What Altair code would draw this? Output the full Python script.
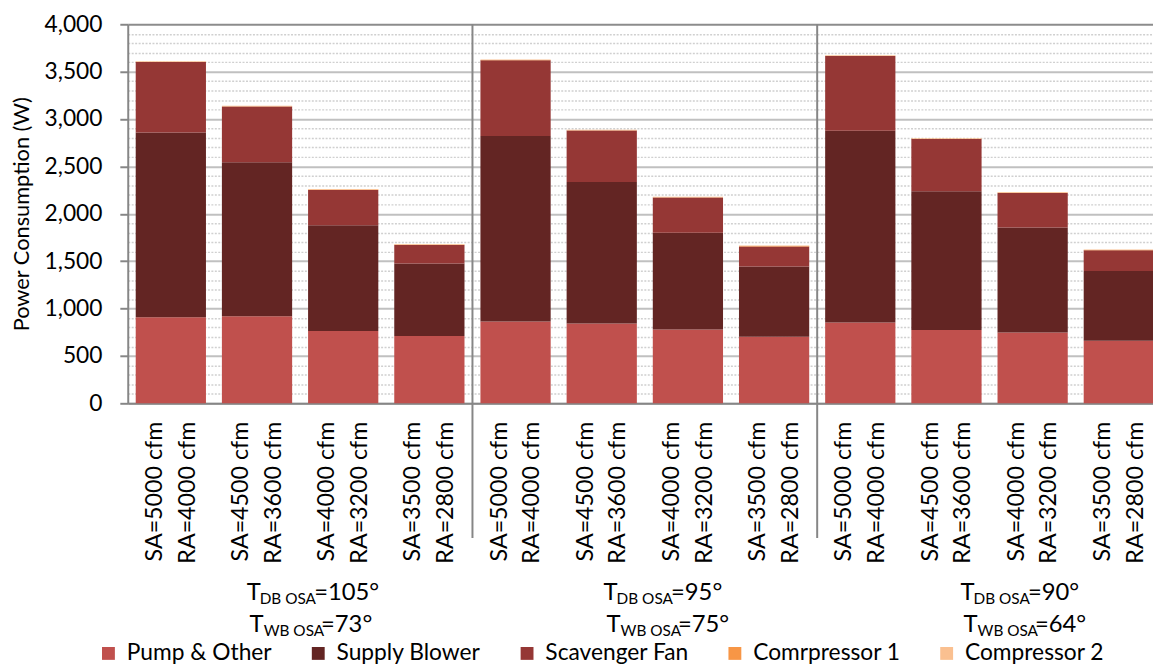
import altair as alt
import pandas as pd

# ---- data ----
groups = ["g1", "g2", "g3"]
db_temps = ["=105°", "=95°", "=90°"]
wb_temps = ["=73°", "=75°", "=64°"]
flows = ["SA=5000 cfm|RA=4000 cfm", "SA=4500 cfm|RA=3600 cfm",
         "SA=4000 cfm|RA=3200 cfm", "SA=3500 cfm|RA=2800 cfm"]

series = ["Pump & Other", "Supply Blower", "Scavenger Fan", "Comrpressor 1", "Compressor 2"]
colors = ["#C0504D", "#632523", "#953735", "#F79646", "#FAC090"]

pump = [908, 919, 762, 710, 863, 842, 780, 703, 853, 773, 748, 661]
supply = [1949, 1625, 1117, 766, 1959, 1493, 1019, 741, 2022, 1465, 1107, 735]
scavenger = [745, 588, 373, 195, 797, 543, 373, 212, 790, 550, 365, 218]
comp1 = [3, 3, 3, 3, 3, 3, 3, 3, 3, 3, 3, 3]
comp2 = [6, 6, 6, 6, 6, 6, 6, 6, 6, 6, 6, 6]

keys = [f"{g}{b}:{flows[b]}" for g in range(len(groups)) for b in range(len(flows))]
values = [pump, supply, scavenger, comp1, comp2]

rows = []
for i, k in enumerate(keys):
    for s, name in enumerate(series):
        rows.append({"key": k, "series": name, "value": values[s][i], "order": s})
df = pd.DataFrame(rows)

FONT = "Lato"
GRAY = "#868686"
x_scale = alt.Scale(domain=keys, range=[0, 1045], paddingInner=0, paddingOuter=0)

y_axis = alt.Axis(
    values=list(range(0, 4001, 100)),
    labelExpr="datum.value % 500 === 0 ? format(datum.value, ',') : ''",
    labelFontSize=23, labelFont=FONT, labelColor="black", labelPadding=18,
    labelOverlap=False,
    tickSize=8, tickWidth=2, tickColor=GRAY,
    tickOpacity={"condition": {"test": "datum.value % 500 === 0", "value": 1}, "value": 0},
    domainColor=GRAY, domainWidth=2,
    gridColor={"condition": [{"test": "datum.value === 4000", "value": "#8c8c8c"},
                             {"test": "datum.value % 500 === 0", "value": "#c0c0c0"}],
               "value": "#d0d0d0"},
    gridDash={"condition": {"test": "datum.value % 500 === 0", "value": []}, "value": [2, 1.5]},
    gridWidth={"condition": {"test": "datum.value % 500 === 0", "value": 2}, "value": 1.5},
    title="Power Consumption (W)", titleFontSize=22, titleFont=FONT, titleFontWeight="normal",
    titleColor="black", titlePadding=11,
)

x_axis = alt.Axis(
    title=None, labelAngle=-90, ticks=False,
    labelExpr="split(slice(datum.label, 3), '|')",
    labelFontSize=23.5, labelFont=FONT, labelColor="black", labelLineHeight=33,
    labelPadding=18, labelOffset=-16, domainColor=GRAY, domainWidth=2, grid=False,
)

bars = alt.Chart(df).mark_bar(width=alt.RelativeBandSize(0.815)).encode(
    x=alt.X("key:N", sort=keys, scale=x_scale, axis=x_axis),
    y=alt.Y("value:Q", stack="zero", scale=alt.Scale(domain=[0, 4000], nice=False), axis=y_axis),
    color=alt.Color("series:N", sort=series,
                    scale=alt.Scale(domain=series, range=colors),
                    legend=alt.Legend(orient="none", legendX=-31, legendY=624,
                                      direction="horizontal", columns=5, columnPadding=35,
                                      symbolType="square", symbolSize=169, symbolStrokeWidth=0,
                                      labelFontSize=23, labelFont=FONT, labelColor="black",
                                      labelOffset=7, title=None)),
    order=alt.Order("order:Q", sort="ascending"),
)

sep_df = pd.DataFrame({"key": [keys[4], keys[8]]})
seps = alt.Chart(sep_df).mark_rule(color=GRAY, strokeWidth=2).encode(
    x=alt.X("key:N", sort=keys, scale=x_scale, axis=None, bandPosition=0),
    y=alt.value(0), y2=alt.value(519),
)

lab_df = pd.DataFrame({"grp": groups, "db": db_temps, "wb": wb_temps})
xg = alt.X("grp:N", sort=groups,
           scale=alt.Scale(domain=groups, range=[-3, 1079], paddingInner=0, paddingOuter=0),
           axis=None)
lb = alt.Chart(lab_df)
t1 = lb.mark_text(text="T", align="right", fontSize=24, font=FONT, color="black", dx=-43).encode(x=xg, y=alt.value(575))
s1 = lb.mark_text(text="DB OSA", align="left", fontSize=15.5, font=FONT, color="black", dx=-44).encode(x=xg, y=alt.value(581))
v1 = lb.mark_text(align="left", fontSize=24, font=FONT, color="black", dx=11).encode(x=xg, y=alt.value(575), text="db:N")
t2 = lb.mark_text(text="T", align="right", fontSize=24, font=FONT, color="black", dx=-40).encode(x=xg, y=alt.value(607))
s2 = lb.mark_text(text="WB OSA", align="left", fontSize=15.5, font=FONT, color="black", dx=-40).encode(x=xg, y=alt.value(613))
v2 = lb.mark_text(align="left", fontSize=24, font=FONT, color="black", dx=18).encode(x=xg, y=alt.value(607), text="wb:N")

chart = alt.layer(bars, seps, t1, s1, v1, t2, s2, v2).resolve_scale(x="independent").properties(
    width=1036, height=383,
    autosize=alt.AutoSizeParams(type="none"),
    padding={"left": 121, "top": 13, "right": 0, "bottom": 261},
).configure(font=FONT).configure_view(strokeWidth=0)

chart.save("out.html", embed_options={"renderer": "svg", "actions": False})
